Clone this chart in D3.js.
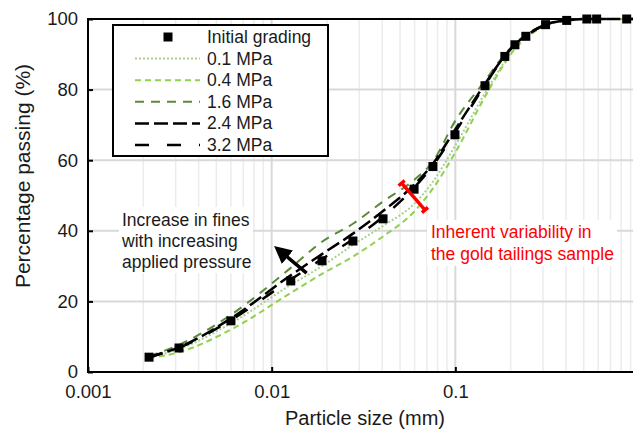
<!DOCTYPE html>
<html lang="en">
<head>
<meta charset="UTF-8">
<title>Particle size distribution</title>
<script src="https://d3js.org/d3.v7.min.js"></script>
<style>
  body { margin: 0; background: #fff; }
  svg text { font-family: "Liberation Sans", Arial, sans-serif; fill: #1a1a1a; }
  .grid-major { stroke: #d9d9d9; stroke-width: 2; }
  .grid-minor { stroke: #ececec; stroke-width: 1.5; }
  .frame { stroke: #000; stroke-width: 2; fill: none; }
  .axis path { display: none; }
  .axis line { stroke: #000; stroke-width: 2; }
  .axis text { font-size: 18.5px; }
  .series { fill: none; }
</style>
</head>
<body>
<svg width="633" height="432"></svg>
<script>
// particle sizes (mm) of the measured points
var sizes = [0.00215, 0.00313, 0.006, 0.0127, 0.0188, 0.0277, 0.0404, 0.0596, 0.0755, 0.0995,
             0.145, 0.186, 0.211, 0.242, 0.31, 0.404, 0.52, 0.588, 0.857, 1.0];

// percentage passing
var initialGrading = [4.2, 6.8, 14.5, 25.8, 31.5, 37.1, 43.4, 51.8, 58.2, 67.2,
                      81.1, 89.4, 92.7, 95.1, 98.4, 99.6, 100, 100, 100, 100];
var mpa01 = [4.2, 6.5, 13.8, 24.7, 30.0, 36.0, 41.4, 47.6, 53.9, 64.0,
             79.0, 88.0, 92.0, 95.0, 98.2, 99.6, 100, 100, 100, 100];
var mpa04 = [4.0, 5.6, 12.0, 22.4, 27.8, 32.7, 38.4, 45.4, 52.0, 62.0,
             78.0, 87.5, 91.5, 94.5, 98.2, 99.6, 100, 100, 100, 100];
var mpa16 = [4.5, 7.7, 16.2, 29.5, 36.9, 42.0, 48.3, 54.4, 59.6, 71.0,
             82.5, 90.0, 93.0, 95.5, 98.5, 99.7, 100, 100, 100, 100];
var mpa24 = [4.3, 7.0, 15.2, 27.4, 33.4, 39.2, 45.6, 53.0, 59.0, 68.6,
             81.6, 89.6, 92.8, 95.2, 98.4, 99.6, 100, 100, 100, 100];
var mpa32 = [4.2, 6.9, 14.7, 26.2, 32.0, 37.6, 44.0, 52.2, 58.5, 67.8,
             81.3, 89.5, 92.8, 95.2, 98.4, 99.6, 100, 100, 100, 100];

var seriesNames = ["0.1 MPa", "0.4 MPa", "1.6 MPa", "2.4 MPa", "3.2 MPa"];
var seriesValues = [mpa01, mpa04, mpa16, mpa24, mpa32];
var seriesColors = ["#a9d18e", "#92d050", "#5b8a3a", "#000", "#000"];
var seriesDash = ["2,2", "6,4", "9,7", "14,5", "14,18"];
var seriesWidth = [2, 2, 2, 2.5, 2.5];

var xTicks = [0.001, 0.01, 0.1];
var xTickLabels = ["0.001", "0.01", "0.1"];
var yTicks = [0, 20, 40, 60, 80, 100];

var svg = d3.select("svg");
var pLeft = 88, pRight = 639, pTop = 19, pBottom = 372, W = 633;

var x = d3.scaleLog().domain([0.001, 1]).range([pLeft, pRight]);
var y = d3.scaleLinear().domain([0, 100]).range([pBottom, pTop]);

// gridlines
var minor = [];
[0.001, 0.01, 0.1].forEach(function(d){
  for (var k = 2; k <= 9; k++) minor.push(d * k);
});
svg.append("g").selectAll("line").data(minor).enter().append("line")
  .attr("class", "grid-minor")
  .attr("x1", function(d){ return x(d); }).attr("x2", function(d){ return x(d); })
  .attr("y1", pTop).attr("y2", pBottom);
svg.append("g").selectAll("line").data([0.01, 0.1]).enter().append("line")
  .attr("class", "grid-major")
  .attr("x1", function(d){ return x(d); }).attr("x2", function(d){ return x(d); })
  .attr("y1", pTop).attr("y2", pBottom);
svg.append("g").selectAll("line").data([20, 40, 60, 80]).enter().append("line")
  .attr("class", "grid-major")
  .attr("x1", pLeft).attr("x2", W)
  .attr("y1", function(d){ return y(d); }).attr("y2", function(d){ return y(d); });

// axes
svg.append("g").attr("class", "axis")
  .attr("transform", "translate(" + pLeft + ",0)")
  .call(d3.axisLeft(y).tickValues(yTicks).tickSize(-5).tickPadding(10));
svg.append("g").attr("class", "axis")
  .attr("transform", "translate(0," + pBottom + ")")
  .call(d3.axisBottom(x).tickValues(xTicks).tickSize(-5).tickPadding(13)
    .tickFormat(function(d, i){ return xTickLabels[i]; }));

svg.append("path").attr("class", "frame")
  .attr("d", "M" + W + "," + pTop + "H" + pLeft + "V" + pBottom + "H" + W);

// annotation boxes (under the curves)
svg.append("rect").attr("x", 119).attr("y", 207).attr("width", 134).attr("height", 66).attr("fill", "#fff");
svg.append("rect").attr("x", 427).attr("y", 220).attr("width", 190).attr("height", 46).attr("fill", "#fff");

// series
var line = d3.line()
  .x(function(d){ return x(d[0]); })
  .y(function(d){ return y(d[1]); })
  .curve(d3.curveMonotoneX);

svg.append("clipPath").attr("id", "plot-clip")
  .append("rect").attr("x", pLeft).attr("y", pTop - 6).attr("width", W - pLeft).attr("height", pBottom - pTop + 6);

var plot = svg.append("g").attr("clip-path", "url(#plot-clip)");

seriesValues.forEach(function(vals, i){
  plot.append("path").attr("class", "series")
    .attr("d", line(d3.zip(sizes, vals)))
    .attr("stroke", seriesColors[i])
    .attr("stroke-width", seriesWidth[i])
    .attr("stroke-dasharray", seriesDash[i]);
});

var msize = 9;
plot.selectAll("rect.marker").data(d3.zip(sizes, initialGrading)).enter().append("rect")
  .attr("class", "marker")
  .attr("x", function(d){ return x(d[0]) - msize / 2; })
  .attr("y", function(d){ return y(d[1]) - msize / 2; })
  .attr("width", msize).attr("height", msize)
  .attr("fill", "#000");

// arrow: increase in fines
svg.append("defs").append("marker")
  .attr("id", "head").attr("viewBox", "0 0 10 10")
  .attr("refX", 4).attr("refY", 5)
  .attr("markerWidth", 5).attr("markerHeight", 5)
  .attr("orient", "auto")
  .append("path").attr("d", "M0,0L10,5L0,10z").attr("fill", "#000");
svg.append("line")
  .attr("x1", x(0.0155)).attr("y1", y(28))
  .attr("x2", x(0.0114)).attr("y2", y(33.8))
  .attr("stroke", "#000").attr("stroke-width", 3.5)
  .attr("marker-end", "url(#head)");

// red bracket: inherent variability
var b0 = [x(0.051), y(53.5)], b1 = [x(0.0683), y(45.9)];
var dx = b1[0] - b0[0], dy = b1[1] - b0[1], len = Math.sqrt(dx * dx + dy * dy);
var nx = -dy / len * 4, ny = dx / len * 4;
svg.append("path")
  .attr("d", "M" + (b0[0] + nx) + "," + (b0[1] + ny) + "L" + (b0[0] - nx) + "," + (b0[1] - ny) +
             "M" + b0[0] + "," + b0[1] + "L" + b1[0] + "," + b1[1] +
             "M" + (b1[0] + nx) + "," + (b1[1] + ny) + "L" + (b1[0] - nx) + "," + (b1[1] - ny))
  .attr("fill", "none").attr("stroke", "#ff0000").attr("stroke-width", 3.5);

// texts
var note = svg.append("text").attr("x", 122).attr("y", 226).style("font-size", "17.5px");
["Increase in fines", "with increasing", "applied pressure"].forEach(function(t, i){
  note.append("tspan").attr("x", 122).attr("dy", i ? 21 : 0).text(t);
});
var red = svg.append("text").attr("x", 431).attr("y", 238).style("font-size", "17.5px").style("fill", "#ff0000");
["Inherent variability in", "the gold tailings sample"].forEach(function(t, i){
  red.append("tspan").attr("x", 431).attr("dy", i ? 22 : 0).text(t);
});

svg.append("text").attr("x", 365).attr("y", 425).attr("text-anchor", "middle")
  .style("font-size", "20px").text("Particle size (mm)");
svg.append("text").attr("transform", "translate(30,176) rotate(-90)").attr("text-anchor", "middle")
  .style("font-size", "21px").text("Percentage passing (%)");

// legend
var lg = svg.append("g");
lg.append("rect").attr("x", 113).attr("y", 25).attr("width", 215).attr("height", 131)
  .attr("fill", "#fff").attr("stroke", "#000").attr("stroke-width", 2);
var rowY = function(i){ return 37 + i * 21.6; };
lg.append("rect").attr("x", 168 - msize / 2).attr("y", rowY(0) - msize / 2)
  .attr("width", msize).attr("height", msize).attr("fill", "#000");
lg.append("text").attr("x", 207).attr("y", rowY(0) + 6).style("font-size", "17.5px").text("Initial grading");
seriesNames.forEach(function(name, i){
  lg.append("line").attr("x1", 135).attr("x2", 200)
    .attr("y1", rowY(i + 1)).attr("y2", rowY(i + 1))
    .attr("stroke", seriesColors[i]).attr("stroke-width", seriesWidth[i])
    .attr("stroke-dasharray", seriesDash[i]);
  lg.append("text").attr("x", 207).attr("y", rowY(i + 1) + 6).style("font-size", "17.5px").text(name);
});
</script>
</body>
</html>
